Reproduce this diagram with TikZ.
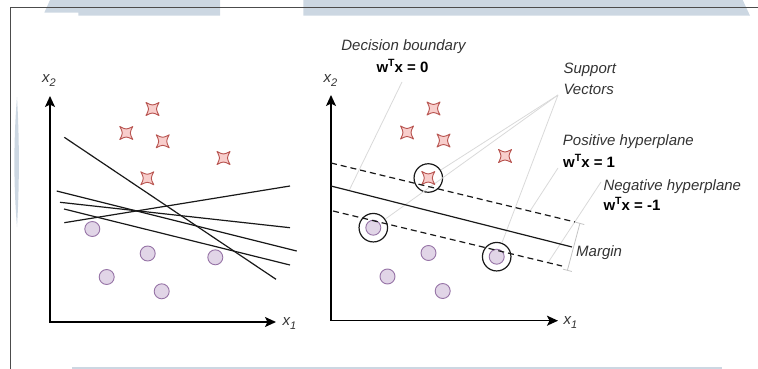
\documentclass[tikz,border=0pt]{standalone}
\usepackage{fontspec}
\setmainfont{Liberation Sans}
\usetikzlibrary{arrows.meta,calc}
\definecolor{starfill}{HTML}{F8CECC}
\definecolor{stardraw}{HTML}{B85450}
\definecolor{dotfill}{HTML}{E1D5E7}
\definecolor{dotdraw}{HTML}{9673A6}
\definecolor{band}{HTML}{CCD7E2}
\definecolor{lead}{HTML}{D9D9D9}
\definecolor{marg}{HTML}{C4C4C4}
\definecolor{labelgray}{HTML}{333333}
\newcommand\svmstar[2]{%
  \coordinate (#1) at #2;
  \begin{scope}[shift={(#1)}]
    \draw[starshape] (-6.5,-6.5) .. controls (0,-3.2) .. (6.5,-6.5)
      .. controls (3.2,0) .. (6.5,6.5) .. controls (0,3.2) .. (-6.5,6.5)
      .. controls (-3.2,0) .. (-6.5,-6.5) -- cycle;
  \end{scope}}
\newcommand\supT{\raisebox{6pt}{\fontsize{10.5}{12}\selectfont T}}
\newcommand\subI[1]{\raisebox{-4pt}{\fontsize{11}{12}\selectfont #1}}
\begin{document}
\begin{tikzpicture}[x=1pt,y=-1pt,
  every node/.style={inner sep=0pt},
  starshape/.style={draw=stardraw, fill=starfill, line width=0.9pt, line join=round},
  dot/.style={circle, draw=dotdraw, fill=dotfill, line width=0.9pt, minimum size=15pt},
  ring/.style={circle, draw=black!90, line width=1.2pt, minimum size=28.5pt},
  axis/.style={line width=1.5pt, draw=black,
    arrows={Stealth[length=11pt,width=10pt,inset=2.5pt]-Stealth[length=11pt,width=10pt,inset=2.5pt]}},
  sepline/.style={line width=1.2pt, draw=black!90},
  hyper/.style={sepline, dash pattern=on 6pt off 4pt},
  leader/.style={draw=lead, line width=0.8pt},
  lbl/.style={font=\fontsize{15}{18}\selectfont\itshape, text=labelgray},
  eqn/.style={font=\fontsize{15}{18}\selectfont\bfseries, text=black},
]
\useasboundingbox (0,0) rectangle (758,369);
% background decoration
\fill[band] (50,0) -- (220,0) -- (220,15.7) -- (78.3,15.7) -- (78.3,12.7) -- (44.3,12.7) -- cycle;
\fill[band] (303.3,0) -- (742.7,0) -- (750,15.7) -- (303.3,15.7) -- cycle;
\fill[band] (17,97) .. controls (13.5,140) and (13.5,185) .. (17,227) .. controls (19.5,185) and (19.5,140) .. (17,97) -- cycle;
\fill[band] (72,366.5) rectangle (722,369);
\draw[line width=1.2pt, draw=black!70] (758,7.3) -- (10.7,7.3) -- (10.7,369);

% ---------------- left plot ----------------
\coordinate (lo) at (50,322);
\coordinate (ly) at (50,96);
\coordinate (lx) at (276,322);
\draw[axis] (ly) -- (lo) -- (lx);
\node[lbl, anchor=base west] (lx1) at (282.5,325) {x\subI{1}};
\node[lbl, anchor=base west] (lx2) at (42,82.3) {x\subI{2}};

\svmstar{ls1}{(152.5,109)}
\svmstar{ls2}{(126.3,133)}
\svmstar{ls3}{(162.7,141.3)}
\svmstar{ls4}{(223.5,158)}
\svmstar{ls5}{(147.3,178.3)}
\node[dot] (lc1) at (92.3,229) {};
\node[dot] (lc2) at (147.7,253.5) {};
\node[dot] (lc3) at (215.3,257.3) {};
\node[dot] (lc4) at (106.7,277) {};
\node[dot] (lc5) at (161.7,291.3) {};

\draw[sepline] (64.3,137.3) -- (276,279.3);
\draw[sepline] (56.7,191) -- (296.7,251);
\draw[sepline] (60,202.3) -- (290,227.7);
\draw[sepline] (64,209) -- (290,265);
\draw[sepline] (64.3,222.7) -- (290,186);

% ---------------- right plot ----------------
\coordinate (ro) at (331,320.7);
\coordinate (ry) at (331,95);
\coordinate (rx) at (558,320.7);
\draw[axis] (ry) -- (ro) -- (rx);
\node[lbl, anchor=base west] (rx1) at (563.3,324.3) {x\subI{1}};
\node[lbl, anchor=base west] (rx2) at (323.3,82.3) {x\subI{2}};

\coordinate (dbA) at (331,186);
\coordinate (dbB) at (572,247);
\coordinate (pA) at (331,163);
\coordinate (pB) at (575,222);
\coordinate (nA) at (333,211);
\coordinate (nB) at (562,266);
\coordinate (dbfoot) at ($(dbA)!0.075!(dbB)$);
\coordinate (pfoot) at ($(pA)!0.8156!(pB)$);
\coordinate (nfoot) at ($(nA)!0.939!(nB)$);

% labels
\node[lbl, anchor=base] (dbt) at (403.5,50.7) {Decision boundary};
\node[eqn, anchor=base] (dbe) at (402.5,72.5) {w\supT x = 0};
\node[lbl, anchor=base west] (svt1) at (563.3,73.3) {Support};
\node[lbl, anchor=base west] (svt2) at (563.3,94.3) {Vectors};
\node[lbl, anchor=base west] (pht) at (562.7,145.7) {Positive hyperplane};
\node[eqn, anchor=base west] (phe) at (563,167.3) {w\supT x = 1};
\node[lbl, anchor=base west] (nht) at (603.3,190) {Negative hyperplane};
\node[eqn, anchor=base west] (nhe) at (603.3,210) {w\supT x = -1};
\node[lbl, anchor=base west] (mgt) at (576,256.7) {Margin};

\coordinate (dbl) at (402,82);
\coordinate (svl) at (558,95);
\coordinate (phl) at (558,168);
\coordinate (nhl) at (601,182);

% support-vector rings (drawn first as nodes, leaders end at them)
\node[ring] (rs) at (428.3,178) {};
\node[ring] (rl) at (373.3,227.7) {};
\node[ring] (rr) at (496.7,256.7) {};

\draw[leader] (dbl) -- (dbfoot);
\draw[leader] (svl) -- (rs);
\draw[leader] (svl) -- (rl);
\draw[leader] (svl) -- (rr);
\draw[leader] (phl) -- (pfoot);
\draw[leader] (nhl) -- (nfoot);

\svmstar{rs1}{(433.5,108.5)}
\svmstar{rs2}{(407,132.5)}
\svmstar{rs3}{(443.5,140.5)}
\svmstar{rs4}{(505,156)}
\svmstar{rs5}{(428.3,178)}
\node[dot] (rc1) at (373.3,227.7) {};
\node[dot] (rc2) at (428.5,253) {};
\node[dot] (rc3) at (496.7,256.7) {};
\node[dot] (rc4) at (387.5,276.5) {};
\node[dot] (rc5) at (442.7,291) {};

\draw[sepline] (dbA) -- (dbB);
\draw[hyper] (pA) -- (pB);
\draw[hyper] (nA) -- (nB);

\coordinate (mt) at (580,223);
\coordinate (mb) at (567.3,270.7);
\draw[draw=marg, line width=0.8pt, arrows={Bar[width=9pt]-Bar[width=9pt]}] (mt) -- (mb);
\end{tikzpicture}
\end{document}
